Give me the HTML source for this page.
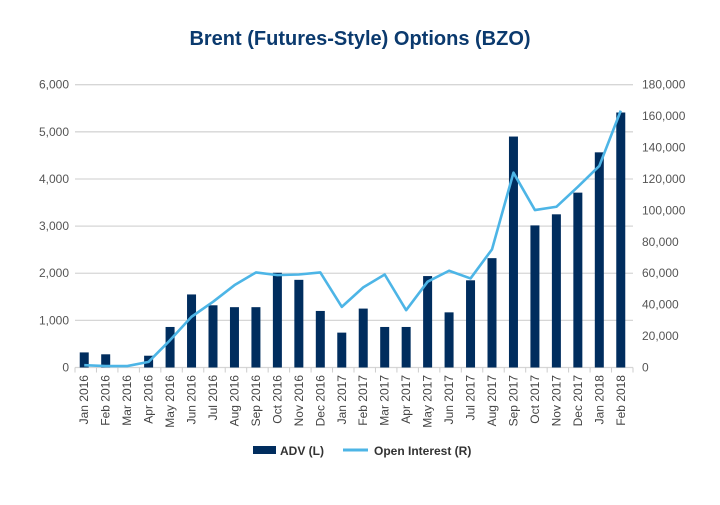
<!DOCTYPE html>
<html><head><meta charset="utf-8"><style>
body{margin:0;background:#fff;width:720px;height:500px;overflow:hidden;font-family:"Liberation Sans",sans-serif}
</style></head><body>
<svg width="720" height="500" xmlns="http://www.w3.org/2000/svg">
<text x="360" y="45" text-anchor="middle" font-size="20" font-weight="bold" fill="#0b3a6e">Brent (Futures-Style) Options (BZO)</text>
<g id="grid"></g><g id="bars"></g><g id="line"></g><g id="axes"></g>
<g>
<rect x="253" y="446" width="23" height="8" fill="#002d5e"/>
<text x="280" y="455" font-size="12" font-weight="bold" fill="#333">ADV (L)</text>
<line x1="343" y1="450" x2="368" y2="450" stroke="#4db5e6" stroke-width="3"/>
<text x="374" y="455" font-size="12" font-weight="bold" fill="#333">Open Interest (R)</text>
</g>
</svg>
<script>
const categories=["Jan 2016","Feb 2016","Mar 2016","Apr 2016","May 2016","Jun 2016","Jul 2016","Aug 2016","Sep 2016","Oct 2016","Nov 2016","Dec 2016","Jan 2017","Feb 2017","Mar 2017","Apr 2017","May 2017","Jun 2017","Jul 2017","Aug 2017","Sep 2017","Oct 2017","Nov 2017","Dec 2017","Jan 2018","Feb 2018"];
const advValues=[320,280,0,250,860,1550,1320,1280,1280,2010,1860,1200,740,1250,860,860,1940,1170,1850,2320,4900,3015,3250,3710,4565,5410];
const oiValues=[1500,900,900,3600,17400,32300,41800,52400,60500,58800,59200,60500,38600,51000,59200,36500,54600,61600,56700,75200,124000,100200,102300,115000,128300,163500];
const leftTicks=[0,1000,2000,3000,4000,5000,6000];
const rightTicks=[0,20000,40000,60000,80000,100000,120000,140000,160000,180000];
const NS="http://www.w3.org/2000/svg";
const X0=75,X1=633,Y0=367.5,Y1=84.7;
const band=(X1-X0)/categories.length;
const xc=i=>X0+(i+0.5)*band-1.5;
const yL=v=>Y0-(v/6000)*(Y0-Y1);
const yR=v=>Y0-(v/180000)*(Y0-Y1);
function mk(tag,attrs,parent){const e=document.createElementNS(NS,tag);for(const k in attrs)e.setAttribute(k,attrs[k]);document.getElementById(parent).appendChild(e);return e;}
const fmt=v=>v.toLocaleString("en-US");
leftTicks.forEach(t=>{
  const g=mk("line",{x1:X0,x2:X1,y1:yL(t),y2:yL(t),stroke:"#d6d6d6","stroke-width":1.3},"grid");
  
  
  const l=mk("text",{x:69,y:yL(t)+4,"text-anchor":"end","font-size":12,fill:"#555"},"axes");
  l.textContent=fmt(t);
  
  
});
rightTicks.forEach(t=>{
  const l=mk("text",{x:642,y:yR(t)+4,"font-size":12,fill:"#555"},"axes");
  l.textContent=fmt(t);
  
  
});
categories.forEach((c,i)=>{
  const b=mk("rect",{x:xc(i)-4.5,y:yL(advValues[i]),width:9,height:Y0-yL(advValues[i]),fill:"#002d5e"},"bars");
  
  
  const tk=mk("line",{x1:X0+i*band,x2:X0+i*band,y1:Y0,y2:Y0+5,stroke:"#ccc"},"axes");
  
  
  const x=xc(i)+4,y=375;
  const t=mk("text",{x:x,y:y,"text-anchor":"end","font-size":12,fill:"#444",transform:`rotate(-90 ${x} ${y})`},"axes");
  t.textContent=c;
  
  
});
const tk=mk("line",{x1:X1,x2:X1,y1:Y0,y2:Y0+5,stroke:"#ccc"},"axes");


const p=mk("polyline",{points:oiValues.map((v,i)=>xc(i)+","+yR(v)).join(" "),fill:"none",stroke:"#4db5e6","stroke-width":2.6,"stroke-linejoin":"round"},"line");


</script>
</body></html>
